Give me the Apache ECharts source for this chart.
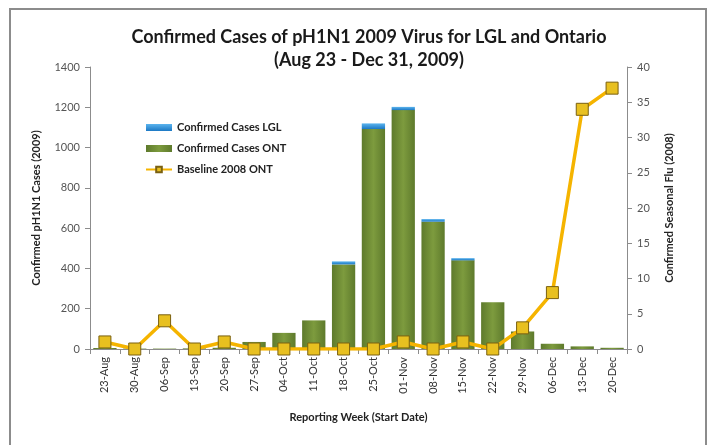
<!DOCTYPE html>
<html>
<head>
<meta charset="utf-8">
<script src="https://cdn.jsdelivr.net/npm/echarts@6/dist/echarts.min.js"></script>
<style>
  html, body { margin: 0; padding: 0; background: #fff; }
  #main { width: 712px; height: 445px; }
</style>
</head>
<body>
<div id="main"></div>
<script>
// reporting weeks (start date)
var weeks = ['23-Aug', '30-Aug', '06-Sep', '13-Sep', '20-Sep', '27-Sep', '04-Oct', '11-Oct', '18-Oct',
  '25-Oct', '01-Nov', '08-Nov', '15-Nov', '22-Nov', '29-Nov', '06-Dec', '13-Dec', '20-Dec']
// confirmed cases 2009
var casesOnt = [5, 2, 2, 3, 6, 35, 80, 142, 420, 1092, 1186, 632, 440, 232, 87, 26, 13, 6]
var casesLgl = [0, 0, 0, 0, 0, 0, 0, 0, 15, 28, 16, 13, 11, 0, 0, 0, 0, 0]
// seasonal flu baseline 2008
var baseline = [1, 0, 4, 0, 1, 0, 0, 0, 0, 0, 1, 0, 1, 0, 3, 8, 34, 37]

var chart = echarts.init(document.getElementById('main'))

var greenBar = new echarts.graphic.LinearGradient(0, 0, 1, 0, [
  { offset: 0, color: '#5e7a2c' },
  { offset: 0.5, color: '#7d9b3e' },
  { offset: 1, color: '#5e7a2c' }
])
var blueBar = new echarts.graphic.LinearGradient(0, 0, 0, 1, [
  { offset: 0, color: '#5bb4ee' },
  { offset: 1, color: '#1c78c4' }
])

chart.setOption({
  animation: false,
  graphic: [
    {
      type: 'rect',
      shape: { x: 10, y: 9, width: 696, height: 500 },
      style: { fill: 'none', stroke: '#8c8c8c', lineWidth: 2 },
      silent: true
    }
  ],
  title: {
    text: 'Confirmed Cases of pH1N1 2009 Virus for LGL and Ontario\n(Aug 23 - Dec 31, 2009)',
    left: 364,
    textAlign: 'center',
    top: 21,
    textStyle: {
      fontFamily: 'Lato',
      fontWeight: 'bold',
      fontSize: 18,
      lineHeight: 23,
      color: '#1a1a1a'
    }
  },
  legend: {
    orient: 'vertical',
    left: 140,
    top: 117,
    itemGap: 10,
    itemWidth: 26,
    itemHeight: 7,
    textStyle: { fontFamily: 'Lato', fontWeight: 'bold', fontSize: 11, color: '#222' },
    data: [
      { name: 'Confirmed Cases LGL', icon: 'rect' },
      { name: 'Confirmed Cases ONT', icon: 'rect' },
      { name: 'Baseline 2008 ONT' }
    ]
  },
  grid: {
    left: 90,
    right: 85,
    top: 67,
    bottom: 96
  },
  xAxis: {
    type: 'category',
    data: weeks,
    name: 'Reporting Week (Start Date)',
    nameLocation: 'middle',
    nameGap: 63,
    nameTextStyle: { fontFamily: 'Lato', fontWeight: 'bold', fontSize: 11, color: '#222' },
    axisLine: { lineStyle: { color: '#8c8c8c' } },
    axisTick: { show: true, length: 5, lineStyle: { color: '#8c8c8c' } },
    axisLabel: {
      rotate: 90,
      interval: 0,
      margin: 8,
      fontFamily: 'Lato',
      fontSize: 11,
      color: '#333'
    }
  },
  yAxis: [
    {
      type: 'value',
      min: 0,
      max: 1400,
      interval: 200,
      name: 'Confirmed pH1N1 Cases (2009)',
      nameLocation: 'middle',
      nameGap: 48,
      nameTextStyle: { fontFamily: 'Lato', fontWeight: 'bold', fontSize: 11, color: '#222' },
      axisLine: { show: true, lineStyle: { color: '#8c8c8c' } },
      axisTick: { show: true, length: 5, lineStyle: { color: '#8c8c8c' } },
      axisLabel: {
        fontFamily: 'Lato', fontSize: 11, color: '#555', margin: 10,
        formatter: function (v) { return String(v) }
      },
      splitLine: { show: false }
    },
    {
      type: 'value',
      min: 0,
      max: 40,
      interval: 5,
      name: 'Confirmed Seasonal Flu (2008)',
      nameLocation: 'middle',
      nameGap: 37,
      nameTextStyle: { fontFamily: 'Lato', fontWeight: 'bold', fontSize: 11, color: '#222' },
      axisLine: { show: true, lineStyle: { color: '#8c8c8c' } },
      axisTick: { show: true, length: 5, lineStyle: { color: '#8c8c8c' } },
      axisLabel: { fontFamily: 'Lato', fontSize: 11, color: '#555', margin: 10 },
      splitLine: { show: false }
    }
  ],
  series: [
    {
      name: 'Confirmed Cases ONT',
      type: 'bar',
      stack: 'cases',
      barCategoryGap: '22%',
      itemStyle: { color: greenBar },
      data: casesOnt
    },
    {
      name: 'Confirmed Cases LGL',
      type: 'bar',
      stack: 'cases',
      itemStyle: { color: blueBar },
      data: casesLgl
    },
    {
      name: 'Baseline 2008 ONT',
      type: 'line',
      yAxisIndex: 1,
      symbol: 'rect',
      symbolSize: 12,
      z: 5,
      lineStyle: { color: '#f5b400', width: 3.5 },
      itemStyle: { color: '#e8c020', borderColor: '#7a6010', borderWidth: 1 },
      data: baseline
    }
  ]
})
</script>
</body>
</html>
